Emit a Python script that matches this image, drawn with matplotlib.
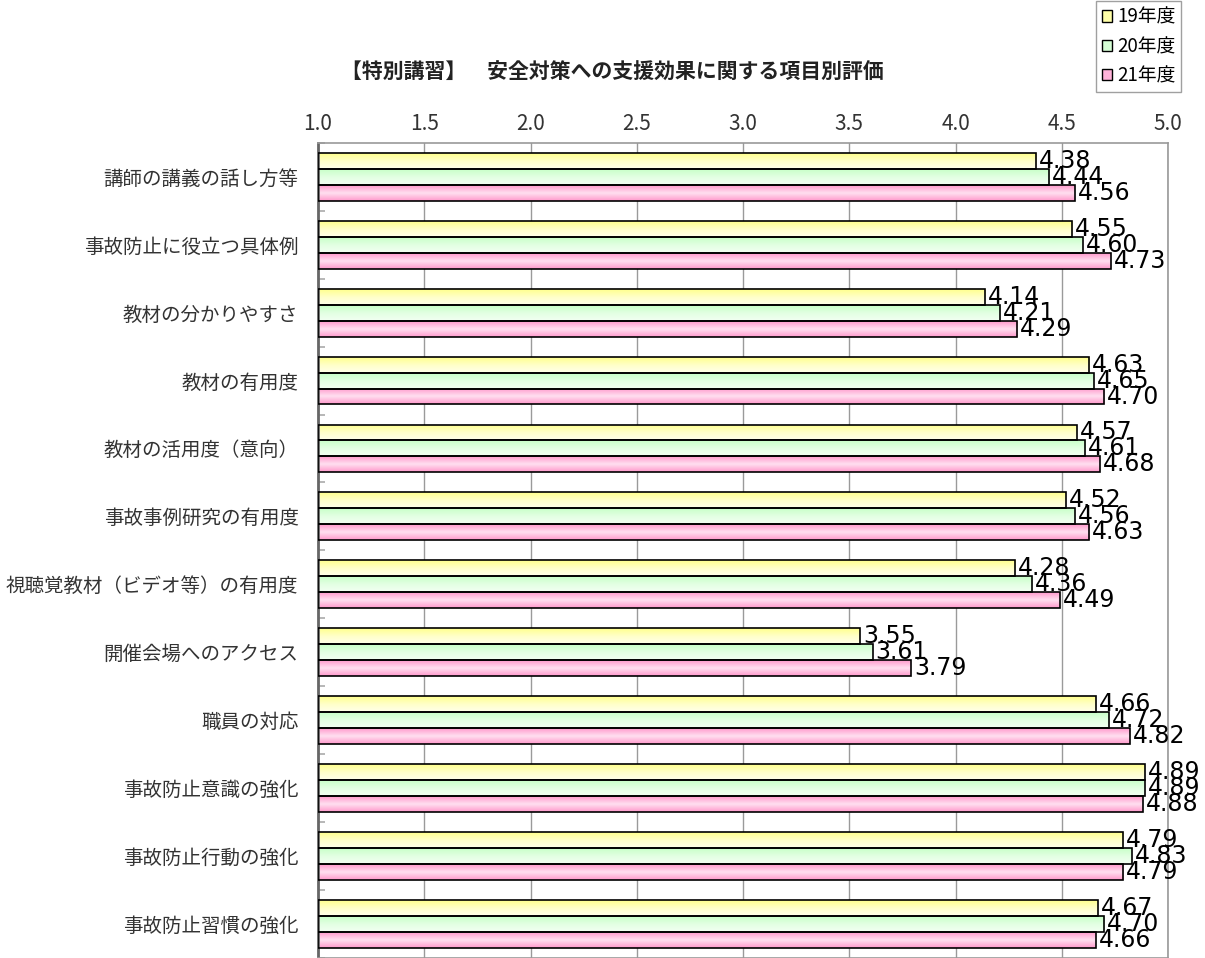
import numpy as np
import matplotlib
matplotlib.use("Agg")
import matplotlib.pyplot as plt
from matplotlib.colors import LinearSegmentedColormap
from matplotlib.patches import Patch

plt.rcParams['font.family'] = ['Noto Sans CJK JP', 'DejaVu Sans']

title = "【特別講習】　安全対策への支援効果に関する項目別評価"
categories = [
    "講師の講義の話し方等",
    "事故防止に役立つ具体例",
    "教材の分かりやすさ",
    "教材の有用度",
    "教材の活用度（意向）",
    "事故事例研究の有用度",
    "視聴覚教材（ビデオ等）の有用度",
    "開催会場へのアクセス",
    "職員の対応",
    "事故防止意識の強化",
    "事故防止行動の強化",
    "事故防止習慣の強化",
]
series_names = ["19年度", "20年度", "21年度"]
y19 = [4.38, 4.55, 4.14, 4.63, 4.57, 4.52, 4.28, 3.55, 4.66, 4.89, 4.79, 4.67]
y20 = [4.44, 4.60, 4.21, 4.65, 4.61, 4.56, 4.36, 3.61, 4.72, 4.89, 4.83, 4.70]
y21 = [4.56, 4.73, 4.29, 4.70, 4.68, 4.63, 4.49, 3.79, 4.82, 4.88, 4.79, 4.66]
xticks = [1.0, 1.5, 2.0, 2.5, 3.0, 3.5, 4.0, 4.5, 5.0]

# gradient colours (top -> bottom of each bar)
grads = [
    ["#ffff8c", "#ffffc8", "#ffffea"],
    ["#c8ffc8", "#e2ffe2", "#f2fff2"],
    ["#ff99cc", "#ffe0f0", "#ff99cc"],
]
legend_colors = ["#ffffa8", "#d6ffd6", "#ffb3d9"]

fig = plt.figure(figsize=(12.05, 9.58), dpi=100)
ax = fig.add_axes([318 / 1205, 0.0005, 850 / 1205, 1 - 143 / 958 - 0.0005])

n = len(categories)
y = np.arange(n)
h = 0.235
base = 1.0

for k, vals in enumerate([y19, y20, y21]):
    pos = y + (k - 1) * h
    bars = ax.barh(pos, np.array(vals) - base, left=base, height=h,
                   color="none", edgecolor="black", linewidth=1.2, zorder=3)
    cmap = LinearSegmentedColormap.from_list(f"g{k}", grads[k])
    grad = np.linspace(0, 1, 64).reshape(-1, 1)
    for b, v, p in zip(bars, vals, pos):
        im = ax.imshow(grad, cmap=cmap, aspect="auto", origin="upper",
                       extent=[base, v, p + h / 2, p - h / 2], zorder=2,
                       interpolation="bilinear")
        im.set_clip_path(b)
        ax.text(v + 0.014, p, f"{v:.2f}", va="center", ha="left",
                fontsize=17, color="black", zorder=4, family="DejaVu Sans")

ax.set_xlim(1.0, 5.0)
ax.set_ylim(n - 0.5, -0.5)
ax.set_xticks(xticks)
ax.set_xticklabels([f"{t:.1f}" for t in xticks], fontsize=15)
ax.xaxis.tick_top()
ax.tick_params(axis="x", length=0, pad=6, colors="#333333")
ax.grid(axis="x", color="#9a9a9a", linewidth=1.0, zorder=1)

ax.set_yticks(y)
ax.set_yticklabels(categories, fontsize=14, color="#333333")
ax.set_yticks(np.arange(n + 1) - 0.5, minor=True)
ax.tick_params(axis="y", which="major", length=0, pad=14)
ax.tick_params(axis="y", which="minor", direction="in", length=5,
               color="#aaaaaa", width=1.2)

for side in ["top", "right", "bottom"]:
    ax.spines[side].set_color("#999999")
    ax.spines[side].set_linewidth(1.2)
ax.spines["left"].set_color("#666666")
ax.spines["left"].set_linewidth(2)
ax.set_axisbelow(True)

fig.text(612 / 1205, 1 - 72 / 958, title, ha="center", va="center",
         fontsize=15, fontweight="bold", color="#222222")

handles = [Patch(facecolor=c, edgecolor="black", linewidth=1) for c in legend_colors]
leg = fig.legend(handles, series_names, loc="upper right",
                 bbox_to_anchor=(1181 / 1205, 0.999), fontsize=13.5,
                 frameon=True, fancybox=False, edgecolor="#888888",
                 handlelength=0.55, handleheight=0.55, handletextpad=0.25,
                 labelspacing=0.45, borderpad=0.3, borderaxespad=0)
leg.get_frame().set_linewidth(1)

fig.savefig("out.png", dpi=100)
